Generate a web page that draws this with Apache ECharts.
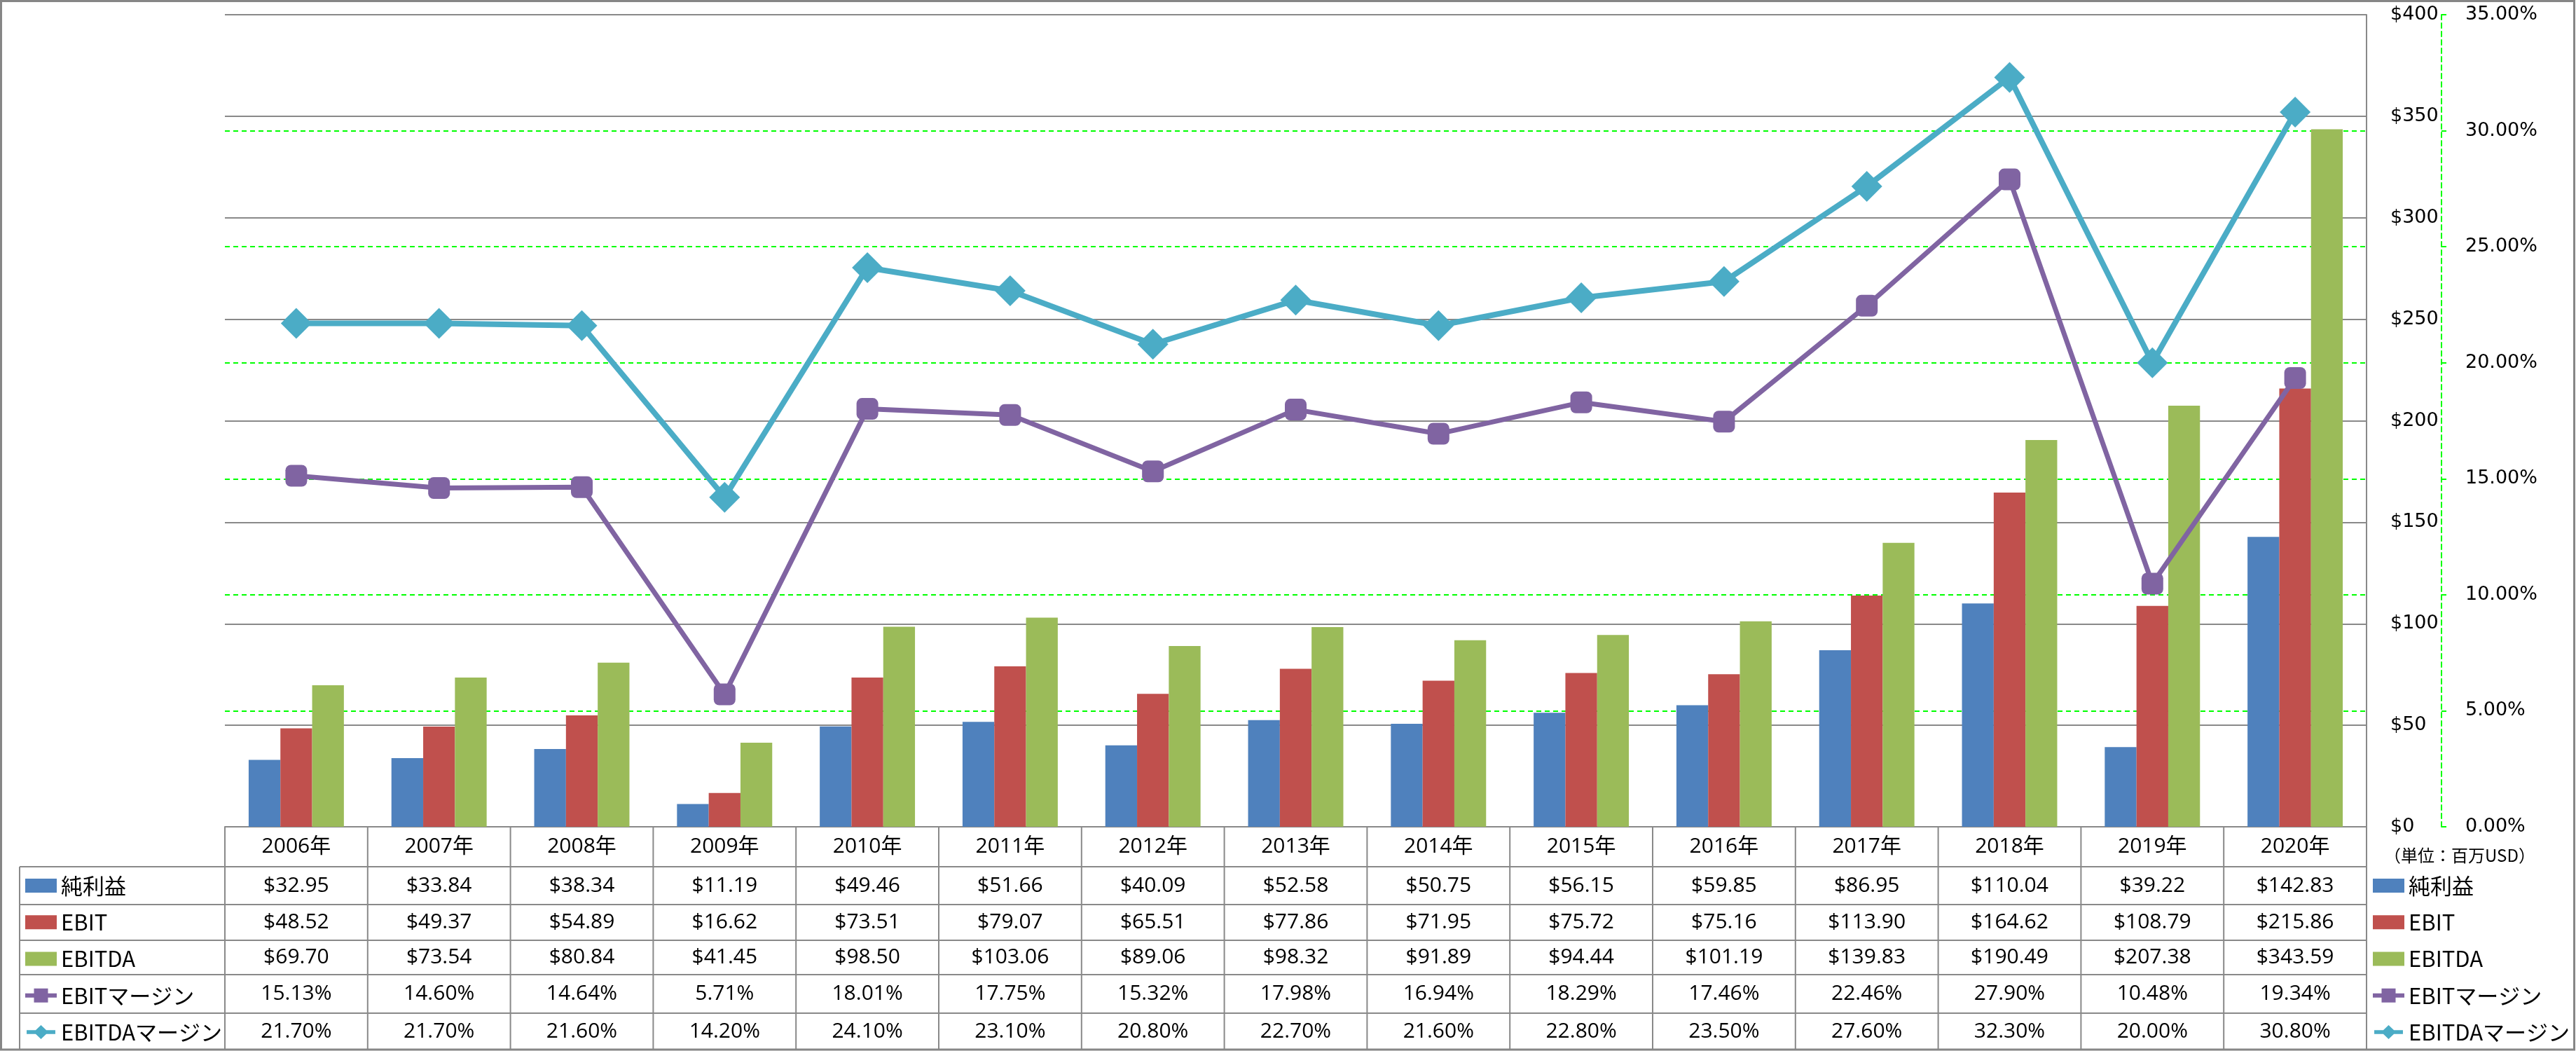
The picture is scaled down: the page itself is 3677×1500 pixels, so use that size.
<!DOCTYPE html>
<html>
<head>
<meta charset="utf-8">
<script src="https://cdn.jsdelivr.net/npm/echarts@6/dist/echarts.min.js"></script>
<style>
html,body{margin:0;padding:0;background:#fff;}
#main{width:3677px;height:1500px;}
</style>
</head>
<body>
<div id="main"></div>
<script>
// ---- data ----
const years = ['2006年','2007年','2008年','2009年','2010年','2011年','2012年','2013年','2014年','2015年','2016年','2017年','2018年','2019年','2020年'];
const netIncome = [32.95,33.84,38.34,11.19,49.46,51.66,40.09,52.58,50.75,56.15,59.85,86.95,110.04,39.22,142.83];
const ebit = [48.52,49.37,54.89,16.62,73.51,79.07,65.51,77.86,71.95,75.72,75.16,113.90,164.62,108.79,215.86];
const ebitda = [69.70,73.54,80.84,41.45,98.50,103.06,89.06,98.32,91.89,94.44,101.19,139.83,190.49,207.38,343.59];
const ebitMargin = [15.13,14.60,14.64,5.71,18.01,17.75,15.32,17.98,16.94,18.29,17.46,22.46,27.90,10.48,19.34];
const ebitdaMargin = [21.70,21.70,21.60,14.20,24.10,23.10,20.80,22.70,21.60,22.80,23.50,27.60,32.30,20.00,30.80];
const seriesNames = ['純利益','EBIT','EBITDA','EBITマージン','EBITDAマージン'];
const unitLabel = '（単位：百万USD）';

// ---- style ----
const C_BLUE = '#4F81BD', C_RED = '#C0504D', C_GREEN = '#9BBB59', C_PURPLE = '#8064A2', C_CYAN = '#4BACC6';
const GRAY = '#898989';
const LIME = '#00FF00';
const CJK = "'Noto Sans CJK JP'";
const TABLE_FONT = "'Open Sans','Noto Sans CJK JP'";

const squareIcon = 'path://M0,7L45,7L45,13L0,13Z M12.5,0L32.5,0L32.5,20L12.5,20Z';
const diamondIcon = 'path://M0,7L45,7L45,13L0,13Z M22.5,-1L34,10L22.5,21L11,10Z';

const legendData = [
  {name: seriesNames[0], icon: 'rect'},
  {name: seriesNames[1], icon: 'rect'},
  {name: seriesNames[2], icon: 'rect'},
  {name: seriesNames[3], icon: squareIcon},
  {name: seriesNames[4], icon: diamondIcon}
];
function legendAt(left) {
  return {
    orient: 'vertical', left: left, top: 1248, padding: 0,
    itemWidth: 45, itemHeight: 20, itemGap: 20.25,
    selectedMode: false,
    textStyle: {fontFamily: CJK, fontSize: 31, color: '#000', lineHeight: 32, padding: [0,0,0,1]},
    data: legendData
  };
}

const option = {
  animation: false,
  backgroundColor: '#fff',
  grid: {left: 321, right: 299, top: 21, bottom: 320, containLabel: false},
  legend: [legendAt(36), legendAt(3387)],
  xAxis: {
    type: 'category', data: years, boundaryGap: true,
    axisLine: {show: true, lineStyle: {color: GRAY, width: 2}},
    axisTick: {show: false}, axisLabel: {show: false}, splitLine: {show: false}
  },
  yAxis: [
    {
      // percentage axis (secondary, drawn first so the $ grid sits on top)
      type: 'value', min: 0, max: 35, interval: 5, position: 'right', offset: 107,
      axisLine: {show: true, lineStyle: {color: LIME, width: 2, type: [7,5]}},
      axisTick: {show: true, inside: false, length: 12, lineStyle: {color: LIME, width: 2, type: [7,5]}},
      axisLabel: {margin: 34, color: '#000', fontFamily: 'DejaVu Sans', fontSize: 27, formatter: v => v.toFixed(2) + '%'},
      splitLine: {show: true, lineStyle: {color: LIME, width: 2, type: [7,5]}}
    },
    {
      // dollar axis
      type: 'value', min: 0, max: 400, interval: 50, position: 'right',
      axisLine: {show: true, lineStyle: {color: GRAY, width: 2}},
      axisTick: {show: false},
      axisLabel: {margin: 34, color: '#000', fontFamily: 'DejaVu Sans', fontSize: 27, formatter: v => '$' + v},
      splitLine: {show: true, lineStyle: {color: GRAY, width: 2}}
    }
  ],
  series: [
    {name: seriesNames[0], type: 'bar', yAxisIndex: 1, data: netIncome, barGap: '0%', barCategoryGap: '33.3%', itemStyle: {color: C_BLUE}},
    {name: seriesNames[1], type: 'bar', yAxisIndex: 1, data: ebit, barGap: '0%', barCategoryGap: '33.3%', itemStyle: {color: C_RED}},
    {name: seriesNames[2], type: 'bar', yAxisIndex: 1, data: ebitda, barGap: '0%', barCategoryGap: '33.3%', itemStyle: {color: C_GREEN}},
    {name: seriesNames[3], type: 'line', yAxisIndex: 0, data: ebitMargin, z: 5,
     symbol: 'roundRect', symbolSize: 31, lineStyle: {color: C_PURPLE, width: 7},
     itemStyle: {color: C_PURPLE}},
    {name: seriesNames[4], type: 'line', yAxisIndex: 0, data: ebitdaMargin, z: 6,
     symbol: 'diamond', symbolSize: [44, 44], lineStyle: {color: C_CYAN, width: 8},
     itemStyle: {color: C_CYAN}}
  ]
};

const chart = echarts.init(document.getElementById('main'), null, {renderer: 'canvas'});
chart.setOption(option);

// ---- data table & frame (text drawn from the arrays, positioned from the axis scale) ----
const rows = [netIncome, ebit, ebitda, ebitMargin, ebitdaMargin];
const fmts = [v => '$' + v.toFixed(2), v => '$' + v.toFixed(2), v => '$' + v.toFixed(2), v => v.toFixed(2) + '%', v => v.toFixed(2) + '%'];
const c0 = chart.convertToPixel({xAxisIndex: 0}, years[0]);
const c1 = chart.convertToPixel({xAxisIndex: 0}, years[1]);
const colW = c1 - c0;
const tableLeft = c0 - colW / 2;
const tableRight = tableLeft + colW * years.length;
const baseY = chart.convertToPixel({yAxisIndex: 1}, 0);
const rowY = [baseY, 1237, 1291, 1342, 1391, 1446, 1498];
const legendColLeft = 28;

const g = [];
const lineStyle = {stroke: GRAY, lineWidth: 2};
for (let r = 1; r < rowY.length; r++) {
  g.push({type: 'line', shape: {x1: legendColLeft, y1: rowY[r], x2: tableRight, y2: rowY[r]}, style: lineStyle, z: 10});
}
for (let i = 0; i <= years.length; i++) {
  const x = tableLeft + i * colW;
  g.push({type: 'line', shape: {x1: x, y1: rowY[0], x2: x, y2: rowY[6]}, style: lineStyle, z: 10});
}
g.push({type: 'line', shape: {x1: legendColLeft, y1: rowY[1], x2: legendColLeft, y2: rowY[6]}, style: lineStyle, z: 10});
years.forEach((y, i) => {
  g.push({type: 'text', x: tableLeft + (i + 0.5) * colW, y: (rowY[0] + rowY[1]) / 2, z: 11,
    style: {text: y, fontFamily: TABLE_FONT, fontSize: 30, fill: '#000', align: 'center', verticalAlign: 'middle'}});
});
rows.forEach((arr, r) => {
  arr.forEach((v, i) => {
    g.push({type: 'text', x: tableLeft + (i + 0.5) * colW, y: (rowY[r + 1] + rowY[r + 2]) / 2, z: 11,
      style: {text: fmts[r](v), fontFamily: TABLE_FONT, fontSize: 30, fill: '#000', align: 'center', verticalAlign: 'middle'}});
  });
});
g.push({type: 'text', x: 3511, y: 1221, z: 11,
  style: {text: unitLabel, fontFamily: CJK, fontSize: 24, fill: '#000', align: 'center', verticalAlign: 'middle'}});
g.push({type: 'rect', shape: {x: 1.5, y: 1.5, width: 3673, height: 1496.5}, style: {stroke: '#868686', lineWidth: 3, fill: null}, z: 12});

chart.setOption({graphic: g});
</script>
</body>
</html>
